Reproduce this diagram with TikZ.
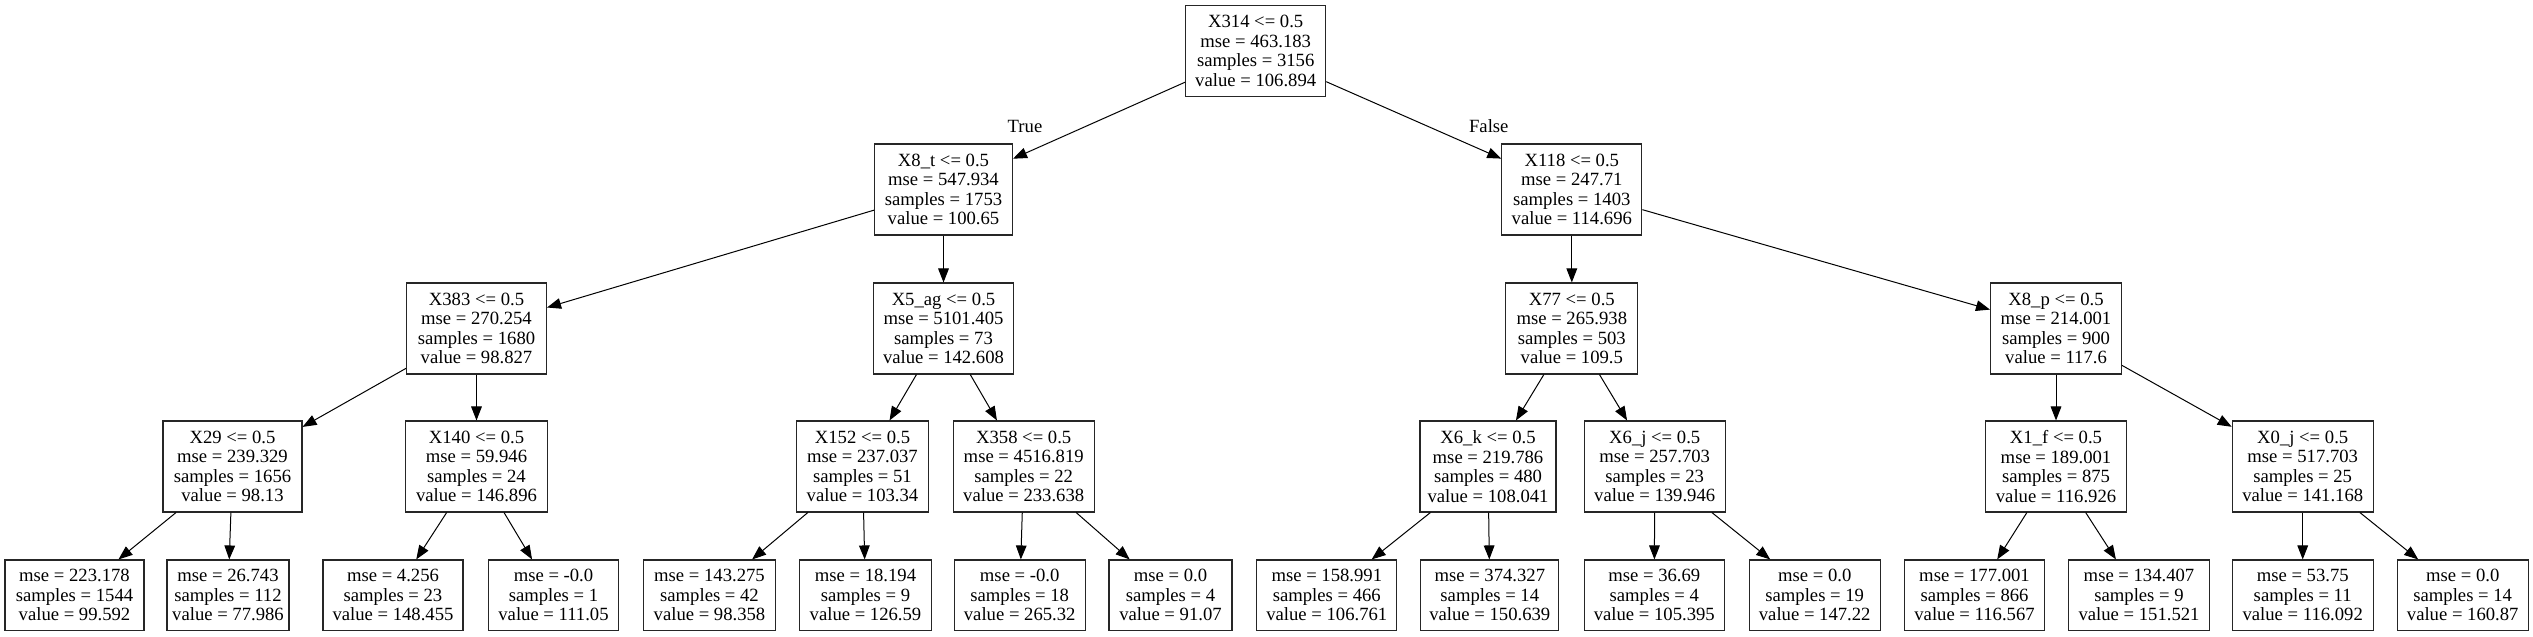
\documentclass[tikz,border=0pt]{standalone}
\usepackage{fontspec}
\setmainfont{Liberation Serif}
\usetikzlibrary{arrows.meta}
\begin{document}
\begin{tikzpicture}[x=0.75pt,y=-0.75pt,
  tn/.style={draw=black!85, line width=0.8pt, rectangle, align=center,
    font=\fontsize{14pt}{14.6pt}\selectfont, inner sep=0pt,
    minimum height=68.25pt, minimum width={#1*0.75pt}},
  lf/.style={tn=#1, minimum height=53pt},
  edge/.style={-{Triangle[length=10.5pt,width=8pt]}, line width=0.75pt},
  lbl/.style={font=\fontsize{14pt}{14.6pt}\selectfont, inner sep=0pt}]
\useasboundingbox (0,0) rectangle (2533,636);
% level 0
\node[tn=140] (r) at (1255.7,50.8) {X314 <= 0.5\\mse = 463.183\\samples = 3156\\value = 106.894};
% level 1
\node[tn=138] (a) at (943.5,189.5) {X8\_t <= 0.5\\mse = 547.934\\samples = 1753\\value = 100.65};
\node[tn=140] (b) at (1571.8,189.5) {X118 <= 0.5\\mse = 247.71\\samples = 1403\\value = 114.696};
% level 2
\node[tn=140] (aa) at (476.5,328.5) {X383 <= 0.5\\mse = 270.254\\samples = 1680\\value = 98.827};
\node[tn=140] (ab) at (943.5,328.5) {X5\_ag <= 0.5\\mse = 5101.405\\samples = 73\\value = 142.608};
\node[tn=132] (ba) at (1571.8,328.5) {X77 <= 0.5\\mse = 265.938\\samples = 503\\value = 109.5};
\node[tn=131] (bb) at (2056,328.5) {X8\_p <= 0.5\\mse = 214.001\\samples = 900\\value = 117.6};
% level 3
\node[tn=139] (aaa) at (232.5,466.5) {X29 <= 0.5\\mse = 239.329\\samples = 1656\\value = 98.13};
\node[tn=142] (aab) at (476.5,466.5) {X140 <= 0.5\\mse = 59.946\\samples = 24\\value = 146.896};
\node[tn=132] (aba) at (862.5,466.5) {X152 <= 0.5\\mse = 237.037\\samples = 51\\value = 103.34};
\node[tn=141] (abb) at (1023.7,466.5) {X358 <= 0.5\\mse = 4516.819\\samples = 22\\value = 233.638};
\node[tn=136] (baa) at (1488,466.5) {X6\_k <= 0.5\\mse = 219.786\\samples = 480\\value = 108.041};
\node[tn=141] (bab) at (1654.7,466.5) {X6\_j <= 0.5\\mse = 257.703\\samples = 23\\value = 139.946};
\node[tn=141] (bba) at (2056,466.5) {X1\_f <= 0.5\\mse = 189.001\\samples = 875\\value = 116.926};
\node[tn=141] (bbb) at (2302.7,466.5) {X0\_j <= 0.5\\mse = 517.703\\samples = 25\\value = 141.168};
% leaves
\node[lf=139] (l1) at (74.5,595.3) {mse = 223.178\\samples = 1544\\value = 99.592};
\node[lf=122] (l2) at (228,595.3) {mse = 26.743\\samples = 112\\value = 77.986};
\node[lf=140] (l3) at (393,595.3) {mse = 4.256\\samples = 23\\value = 148.455};
\node[lf=130] (l4) at (553.5,595.3) {mse = -0.0\\samples = 1\\value = 111.05};
\node[lf=132] (l5) at (709.5,595.3) {mse = 143.275\\samples = 42\\value = 98.358};
\node[lf=132] (l6) at (865.5,595.3) {mse = 18.194\\samples = 9\\value = 126.59};
\node[lf=131] (l7) at (1019.7,595.3) {mse = -0.0\\samples = 18\\value = 265.32};
\node[lf=123] (l8) at (1170.5,595.3) {mse = 0.0\\samples = 4\\value = 91.07};
\node[lf=140] (l9) at (1326.8,595.3) {mse = 158.991\\samples = 466\\value = 106.761};
\node[lf=138] (l10) at (1489.8,595.3) {mse = 374.327\\samples = 14\\value = 150.639};
\node[lf=140] (l11) at (1654.3,595.3) {mse = 36.69\\samples = 4\\value = 105.395};
\node[lf=131] (l12) at (1814.7,595.3) {mse = 0.0\\samples = 19\\value = 147.22};
\node[lf=140] (l13) at (1974.5,595.3) {mse = 177.001\\samples = 866\\value = 116.567};
\node[lf=141] (l14) at (2139,595.3) {mse = 134.407\\samples = 9\\value = 151.521};
\node[lf=141] (l15) at (2302.7,595.3) {mse = 53.75\\samples = 11\\value = 116.092};
\node[lf=131] (l16) at (2462.7,595.3) {mse = 0.0\\samples = 14\\value = 160.87};
% edge labels
\node[lbl] (tl) at (1025,126) {True};
\node[lbl] (fl) at (1488.8,126) {False};
% edges
\draw[edge] (r) -- (a);
\draw[edge] (r) -- (b);
\draw[edge] (a) -- (aa);
\draw[edge] (a) -- (ab);
\draw[edge] (b) -- (ba);
\draw[edge] (b) -- (bb);
\draw[edge] (aa) -- (aaa);
\draw[edge] (aa) -- (aab);
\draw[edge] (ab) -- (aba);
\draw[edge] (ab) -- (abb);
\draw[edge] (ba) -- (baa);
\draw[edge] (ba) -- (bab);
\draw[edge] (bb) -- (bba);
\draw[edge] (bb) -- (bbb);
\draw[edge] (aaa) -- (l1);
\draw[edge] (aaa) -- (l2);
\draw[edge] (aab) -- (l3);
\draw[edge] (aab) -- (l4);
\draw[edge] (aba) -- (l5);
\draw[edge] (aba) -- (l6);
\draw[edge] (abb) -- (l7);
\draw[edge] (abb) -- (l8);
\draw[edge] (baa) -- (l9);
\draw[edge] (baa) -- (l10);
\draw[edge] (bab) -- (l11);
\draw[edge] (bab) -- (l12);
\draw[edge] (bba) -- (l13);
\draw[edge] (bba) -- (l14);
\draw[edge] (bbb) -- (l15);
\draw[edge] (bbb) -- (l16);
\end{tikzpicture}
\end{document}
